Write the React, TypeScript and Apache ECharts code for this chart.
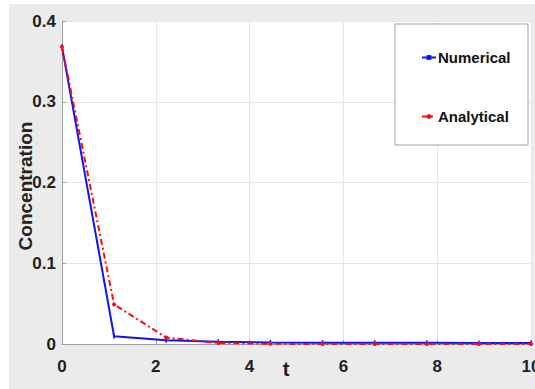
import React, { useEffect, useRef } from "react";
import * as echarts from "echarts";

const tValues = [0, 1.111, 2.222, 3.333, 4.444, 5.556, 6.667, 7.778, 8.889, 10];
const numerical = [0.368, 0.0095, 0.0045, 0.0028, 0.002, 0.0017, 0.0015, 0.0014, 0.0013, 0.0012];
const analytical = [0.368, 0.049, 0.008, 0.0012, 0.0002, 0.00004, 0.00001, 0, 0, 0];
const seriesNames = ["Numerical", "Analytical"];
const xTitle = "t";
const yTitle = "Concentration";

const FONT = "'Liberation Sans', Arial, sans-serif";

export default function App() {
  const ref = useRef<HTMLDivElement>(null);
  useEffect(() => {
    if (!ref.current) return;
    const chart = echarts.init(ref.current, undefined, { renderer: "svg" });
    const toPairs = (ys: number[]) => tValues.map((t, i) => [t, ys[i]]);
    chart.setOption({
      animation: false,
      backgroundColor: "#ffffff",
      textStyle: { fontFamily: FONT },
      graphic: [
        {
          type: "rect",
          z: -10,
          silent: true,
          shape: { x: 9, y: 4, width: 526, height: 385 },
          style: { fill: "#ebebeb" },
        },
        {
          type: "rect",
          z: 10,
          silent: true,
          shape: { x: 395, y: 24, width: 133, height: 121 },
          style: { fill: "#ffffff", stroke: "#a0a0a0", lineWidth: 1 },
        },
        {
          type: "text",
          z: 10,
          silent: true,
          x: 286,
          y: 369,
          style: {
            text: xTitle,
            fontFamily: FONT,
            fontWeight: "bold",
            fontSize: 20,
            fill: "#222",
            align: "center",
            verticalAlign: "middle",
          },
        },
        {
          type: "text",
          z: 10,
          silent: true,
          x: 25,
          y: 186,
          rotation: Math.PI / 2,
          style: {
            text: yTitle,
            fontFamily: FONT,
            fontWeight: "bold",
            fontSize: 19,
            fill: "#222",
            align: "center",
            verticalAlign: "middle",
          },
        },
      ],
      grid: {
        left: 62,
        top: 21,
        right: 4,
        bottom: 45,
        show: true,
        backgroundColor: "#ffffff",
        borderWidth: 0,
        outerBoundsMode: "none",
        containLabel: false,
      },
      legend: {
        z: 20,
        data: seriesNames,
        orient: "vertical",
        left: 421,
        top: 50,
        itemGap: 44,
        itemWidth: 14,
        itemHeight: 6,
        padding: 0,
        textStyle: { fontFamily: FONT, fontWeight: "bold", fontSize: 15, color: "#111", padding: [0, 0, 0, -3] },
      },
      xAxis: {
        type: "value",
        min: 0,
        max: 10,
        interval: 2,
        axisLine: { show: true, lineStyle: { color: "#a0a0a0", width: 1 } },
        axisTick: { show: true, inside: true, length: 4, lineStyle: { color: "#a0a0a0" } },
        axisLabel: { fontFamily: FONT, fontWeight: "bold", fontSize: 17, color: "#222", margin: 14 },
        splitLine: { show: true, lineStyle: { color: "#e6e6e6", width: 1 } },
      },
      yAxis: {
        type: "value",
        min: 0,
        max: 0.4,
        interval: 0.1,
        axisLine: { show: true, lineStyle: { color: "#a0a0a0", width: 1 } },
        axisTick: { show: true, inside: true, length: 4, lineStyle: { color: "#a0a0a0" } },
        axisLabel: { fontFamily: FONT, fontWeight: "bold", fontSize: 17, color: "#222", margin: 6 },
        splitLine: { show: true, lineStyle: { color: "#e6e6e6", width: 1 } },
      },
      series: [
        {
          name: seriesNames[0],
          type: "line",
          data: toPairs(numerical),
          symbol: "rect",
          symbolSize: [1.5, 5],
          showSymbol: true,
          color: "#0a16f0",
          lineStyle: { color: "#0a16f0", width: 2 },
          itemStyle: { color: "#0a16f0" },
          z: 3,
        },
        {
          name: seriesNames[1],
          type: "line",
          data: toPairs(analytical),
          symbol: "circle",
          symbolSize: 4,
          showSymbol: true,
          color: "#ff0a0a",
          lineStyle: { color: "#ff0a0a", width: 2, type: [6, 3, 2, 3] },
          itemStyle: { color: "#ff0a0a" },
          z: 4,
        },
      ],
    });
    return () => chart.dispose();
  }, []);
  return (
    <div
      ref={ref}
      style={{ position: "fixed", left: 0, top: 0, width: 535, height: 389 }}
    />
  );
}
